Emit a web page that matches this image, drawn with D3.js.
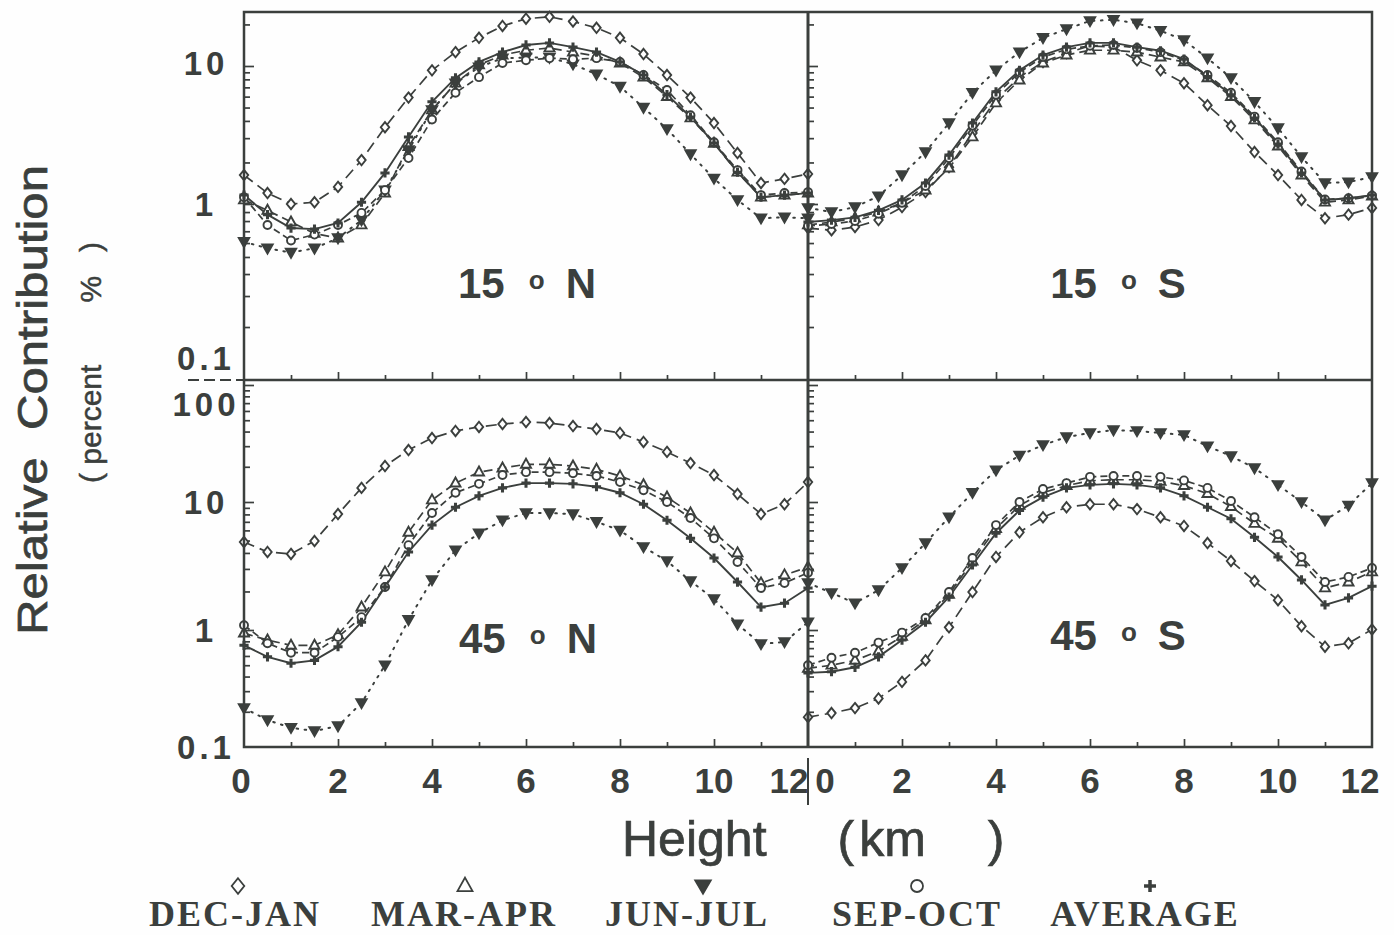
<!DOCTYPE html>
<html>
<head>
<meta charset="utf-8">
<script src="https://cdn.jsdelivr.net/npm/d3@7/dist/d3.min.js"></script>
<style>
  html, body { margin: 0; padding: 0; background: #fefefe; }
  svg { display: block; }
</style>
</head>
<body>
<svg id="chart" width="1394" height="935"></svg>
<script>
// Heights (km) at which each profile is sampled
const heights = [0, 0.5, 1, 1.5, 2, 2.5, 3, 3.5, 4, 4.5, 5, 5.5, 6, 6.5, 7, 7.5, 8, 8.5, 9, 9.5, 10, 10.5, 11, 11.5, 12];

const seasons = ["DEC-JAN", "MAR-APR", "JUN-JUL", "SEP-OCT", "AVERAGE"];

// Relative contribution (percent), 15 N
const decJan15N = [1.62, 1.2, 1.0, 1.03, 1.33, 2.08, 3.6, 5.9, 9.3, 12.6, 16, 19.5, 22, 22.7, 21, 18.9, 16, 12.2, 8.6, 5.9, 3.86, 2.34, 1.42, 1.52, 1.65];
const marApr15N = [1.07, 0.92, 0.79, 0.68, 0.64, 0.76, 1.2, 2.6, 4.8, 7.5, 10.2, 12, 13, 13.5, 12.6, 11.8, 10.5, 8.3, 6.0, 4.2, 2.75, 1.7, 1.12, 1.16, 1.2];
const junJul15N = [0.61, 0.56, 0.53, 0.56, 0.64, 0.81, 1.26, 2.46, 4.8, 7.5, 9.8, 11.4, 11.5, 11.5, 10.3, 8.7, 7.1, 5.0, 3.5, 2.3, 1.53, 1.07, 0.83, 0.84, 0.83];
const sepOct15N = [1.12, 0.76, 0.62, 0.67, 0.76, 0.89, 1.26, 2.15, 4.1, 6.4, 8.3, 10.5, 11, 11.4, 11.2, 11.4, 10.7, 8.6, 6.7, 4.4, 2.8, 1.76, 1.16, 1.2, 1.22];
const avg15N    = [1.16, 0.87, 0.73, 0.72, 0.78, 1.03, 1.68, 3.06, 5.5, 8.2, 10.7, 12.6, 14.2, 14.7, 13.7, 12.6, 10.7, 8.6, 6.2, 4.27, 2.77, 1.7, 1.12, 1.16, 1.2];

// Relative contribution (percent), 15 S
const decJan15S = [0.73, 0.71, 0.74, 0.81, 0.96, 1.22, 1.85, 3.27, 5.7, 8.3, 10.7, 12.4, 14, 13.7, 11, 9.3, 7.5, 5.2, 3.67, 2.38, 1.62, 1.07, 0.83, 0.87, 0.95];
const marApr15S = [0.76, 0.79, 0.83, 0.9, 1.02, 1.26, 1.82, 3.06, 5.4, 7.9, 10.5, 12, 13, 13, 12.6, 11.6, 10.7, 8.2, 6.0, 4.06, 2.63, 1.62, 1.03, 1.07, 1.14];
const junJul15S = [0.95, 0.9, 0.96, 1.14, 1.62, 2.38, 3.86, 6.4, 9.3, 12.6, 16, 18.5, 21.2, 21.6, 20.4, 18, 15.4, 11.4, 8.2, 5.5, 3.55, 2.19, 1.42, 1.44, 1.57];
const sepOct15S = [0.75, 0.77, 0.8, 0.88, 1.02, 1.35, 2.15, 3.7, 6.2, 9.0, 11.6, 13.2, 14, 14.2, 13.5, 12.6, 11, 8.6, 6.4, 4.3, 2.8, 1.72, 1.08, 1.1, 1.15];
const avg15S    = [0.79, 0.81, 0.84, 0.92, 1.07, 1.42, 2.26, 3.86, 6.5, 9.3, 12, 13.7, 14.7, 14.7, 13.7, 12.9, 11.2, 8.4, 6.2, 4.2, 2.72, 1.68, 1.07, 1.1, 1.16];

// Relative contribution (percent), 45 N
const decJan45N = [4.87, 4.07, 3.93, 4.96, 8.05, 13.2, 20.3, 27.8, 35.2, 40.5, 43.8, 46.4, 48.3, 47.3, 44.6, 42, 38.9, 32.6, 26.8, 21.5, 17, 11.7, 8.05, 9.6, 14.8];
const marApr45N = [0.94, 0.82, 0.74, 0.74, 0.91, 1.51, 2.84, 5.8, 10.4, 14.5, 18, 19.5, 21, 21, 20.3, 19, 16.7, 14, 11, 8.2, 5.8, 4.0, 2.33, 2.69, 3.1];
const junJul45N = [0.215, 0.17, 0.146, 0.137, 0.151, 0.238, 0.5, 1.2, 2.46, 4.2, 5.7, 7.2, 8.2, 8.2, 8.05, 7.0, 6.0, 4.45, 3.46, 2.41, 1.75, 1.11, 0.76, 0.79, 1.15];
const sepOct45N = [1.09, 0.77, 0.64, 0.64, 0.87, 1.26, 2.17, 4.6, 8.2, 12, 14.3, 17, 18, 18, 17.6, 16.7, 14.8, 12.6, 10, 7.5, 5.2, 3.4, 2.13, 2.33, 2.8];
const avg45N    = [0.74, 0.59, 0.52, 0.55, 0.72, 1.15, 2.17, 4.07, 6.6, 9.1, 11.3, 13.2, 14.5, 14.5, 14.3, 13.5, 12, 9.6, 7.2, 5.2, 3.65, 2.37, 1.51, 1.62, 2.13];

// Relative contribution (percent), 45 S
const decJan45S = [0.18, 0.195, 0.215, 0.26, 0.36, 0.55, 1.05, 1.98, 3.72, 5.8, 7.6, 9.1, 9.6, 9.6, 8.8, 7.6, 6.5, 4.78, 3.46, 2.41, 1.71, 1.07, 0.72, 0.77, 1.01];
const marApr45S = [0.47, 0.5, 0.55, 0.66, 0.88, 1.2, 1.9, 3.45, 6.2, 9.4, 12, 13.8, 15.2, 15.5, 15.5, 15, 13.8, 11.8, 9.2, 6.8, 5.2, 3.4, 2.13, 2.37, 2.84];
const junJul45S = [2.33, 1.95, 1.62, 2.05, 3.05, 4.78, 7.6, 12, 18.7, 25, 30.7, 35.9, 38.9, 41.2, 40.5, 38.9, 37.4, 30, 24.7, 19.5, 14, 10, 7.2, 9.4, 14.5];
const sepOct45S = [0.5, 0.58, 0.64, 0.78, 0.95, 1.24, 1.98, 3.65, 6.6, 10, 12.9, 14.5, 16.4, 16.7, 16.7, 16.4, 15.3, 13.2, 10.2, 7.6, 5.6, 3.72, 2.37, 2.6, 3.05];
const avg45S    = [0.43, 0.44, 0.48, 0.59, 0.82, 1.15, 1.81, 3.22, 5.7, 8.6, 11, 13.2, 14, 14.3, 14, 13.2, 11.3, 9.1, 7.4, 5.3, 3.72, 2.46, 1.57, 1.78, 2.2];

// Axis tick labels
const xTickLabels = [0, 2, 4, 6, 8, 10, 12];
const yTickLabelsTop = [0.1, 1, 10];
const yTickLabelsBottom = [0.1, 1, 10, 100];

// ---------------------------------------------------------------------------
const ink = "#3b3f3d";
const paper = "#fefefe";
const svg = d3.select("#chart");
svg.append("rect").attr("width", 1394).attr("height", 935).attr("fill", paper);

const X0 = 244, XM = 808, X1 = 1372;
const Y0 = 12, YM = 380, Y1 = 747;

const xLeft = d3.scaleLinear().domain([0, 12]).range([X0, XM]);
const xRight = d3.scaleLinear().domain([0, 12]).range([XM, X1]);

// Log axes as printed: decade spacing differs slightly per decade
const yTop = d3.scaleLog().domain([0.1, 1, 10, 24]).range([YM, 204, 66, 13.5]);
const yBottom = d3.scaleLog().domain([0.1, 1, 10, 100]).range([Y1, 630, 502, 385]);

const panels = [
  { lat: "15", hemi: "N", x: xLeft,  y: yTop,    series: [decJan15N, marApr15N, junJul15N, sepOct15N, avg15N], lx: 527,  ly: 298 },
  { lat: "15", hemi: "S", x: xRight, y: yTop,    series: [decJan15S, marApr15S, junJul15S, sepOct15S, avg15S], lx: 1118, ly: 298 },
  { lat: "45", hemi: "N", x: xLeft,  y: yBottom, series: [decJan45N, marApr45N, junJul45N, sepOct45N, avg45N], lx: 528,  ly: 653 },
  { lat: "45", hemi: "S", x: xRight, y: yBottom, series: [decJan45S, marApr45S, junJul45S, sepOct45S, avg45S], lx: 1118, ly: 650 }
];

// Marker shapes and line dashes per season
const markerPaths = [
  "M0,-5.2L4.2,0L0,5.2L-4.2,0Z",        // diamond
  "M0,-5.6L5,3.4L-5,3.4Z",              // triangle up
  "M-5.2,-3.8L5.2,-3.8L0,5.2Z",         // triangle down
  null,                                  // circle
  "M-4.6,0H4.6M0,-4.6V4.6"               // plus
];
const dashes = ["11,6", "9,5", "1.6,6.5", "7,4", null];
const fills = [paper, paper, ink, paper, "none"];

function drawMarker(g, i, k, sw) {
  if (i === 3) {
    return g.append("circle").attr("r", 4 * k).attr("fill", fills[i]).attr("stroke", ink).attr("stroke-width", sw);
  }
  return g.append("path")
    .attr("d", markerPaths[i])
    .attr("transform", k !== 1 ? `scale(${k})` : null)
    .attr("fill", fills[i])
    .attr("stroke", ink)
    .attr("stroke-width", (i === 4 ? 1.6 * sw : sw) / k);
}

// ---- ticks -----------------------------------------------------------------
const axisG = svg.append("g");

function minorValues(lo, hi) {
  const out = [];
  for (let d = lo; d < hi; d *= 10) {
    for (let m = 2; m <= 9; m++) out.push(+(d * m).toPrecision(3));
  }
  return out;
}

[[X0, yTop, [1, 10], minorValues(0.1, 10).concat([20])],
 [XM, yTop, [1, 10], minorValues(0.1, 10).concat([20])],
 [X0, yBottom, [1, 10, 100], minorValues(0.1, 100)],
 [XM, yBottom, [1, 10, 100], minorValues(0.1, 100)]].forEach(([xp, ys, majors, minors]) => {
  const gMaj = axisG.append("g").attr("transform", `translate(${xp},0)`)
    .call(d3.axisRight(ys).tickValues(majors).tickSize(10).tickFormat(""));
  const gMin = axisG.append("g").attr("transform", `translate(${xp},0)`)
    .call(d3.axisRight(ys).tickValues(minors).tickSize(6).tickFormat(""));
  [gMaj, gMin].forEach(g => {
    g.select(".domain").remove();
    g.selectAll("line").attr("stroke", ink).attr("stroke-width", 1.7);
  });
});

const kmTicks = [1, 2, 3, 4, 5, 6, 7, 8, 9, 10, 11];
[[xLeft, YM], [xRight, YM], [xLeft, Y1], [xRight, Y1]].forEach(([xs, yp]) => {
  [[kmTicks.filter(v => v % 2 === 0), 8], [kmTicks.filter(v => v % 2 === 1), 5]].forEach(([vals, len]) => {
    const g = axisG.append("g").attr("transform", `translate(0,${yp})`)
      .call(d3.axisTop(xs).tickValues(vals).tickSize(len).tickFormat(""));
    g.select(".domain").remove();
    g.selectAll("line").attr("stroke", ink).attr("stroke-width", 1.7);
  });
});

// ---- curves ----------------------------------------------------------------
panels.forEach(p => {
  const g = svg.append("g");
  const line = d3.line().x((d, i) => p.x(heights[i])).y(d => p.y(d));
  p.series.forEach((vals, si) => {
    g.append("path")
      .attr("d", line(vals))
      .attr("fill", "none")
      .attr("stroke", ink)
      .attr("stroke-width", si === 4 ? 1.9 : (si === 2 ? 2 : 1.7))
      .attr("stroke-linecap", si === 2 ? "round" : "butt")
      .attr("stroke-dasharray", dashes[si]);
  });
  p.series.forEach((vals, si) => {
    vals.forEach((v, i) => {
      const m = g.append("g").attr("transform", `translate(${p.x(heights[i])},${p.y(v)})`);
      drawMarker(m, si, 1, 1.9);
    });
  });

  // latitude label
  const t = svg.append("text")
    .attr("x", p.lx).attr("y", p.ly)
    .attr("text-anchor", "middle")
    .attr("font-family", "Liberation Sans, Arial, sans-serif")
    .attr("font-weight", "bold")
    .attr("font-size", 42)
    .attr("fill", ink);
  t.append("tspan").text(p.lat);
  t.append("tspan").attr("dx", 24).attr("dy", -9).attr("font-size", 26).text("o");
  t.append("tspan").attr("dx", 21).attr("dy", 9).text(p.hemi);
});

// ---- frame -----------------------------------------------------------------
const frame = svg.append("g").attr("stroke", ink).attr("fill", "none");
frame.append("rect").attr("x", X0).attr("y", Y0).attr("width", X1 - X0).attr("height", Y1 - Y0).attr("stroke-width", 2.5);
frame.append("line").attr("x1", XM).attr("x2", XM).attr("y1", Y0).attr("y2", Y1).attr("stroke-width", 3);
frame.append("line").attr("x1", X0).attr("x2", X1).attr("y1", YM).attr("y2", YM).attr("stroke-width", 2.5);
frame.append("line").attr("x1", 188).attr("x2", X0).attr("y1", YM).attr("y2", YM)
  .attr("stroke-width", 2).attr("stroke-dasharray", "11,5");
frame.append("line").attr("x1", XM).attr("x2", XM).attr("y1", 758).attr("y2", 805).attr("stroke-width", 2);

// ---- tick labels -------------------------------------------------------------
const labelFont = "Liberation Sans, Arial, Helvetica, sans-serif";
const tl = svg.append("g")
  .attr("font-family", labelFont).attr("font-weight", "bold").attr("fill", ink);

[[xLeft, -1], [xRight, 1]].forEach(([xs, side]) => {
  xTickLabels.forEach(v => {
    let nudge = 0;
    if (side < 0 && v === 0) nudge = -3;
    if (side < 0 && v === 12) nudge = -19;
    if (side > 0 && v === 0) nudge = 17;
    if (side > 0 && v === 12) nudge = -12;
    tl.append("text")
      .attr("x", xs(v) + nudge).attr("y", 793)
      .attr("text-anchor", "middle")
      .attr("font-size", 35)
      .text(v);
  });
});

yTickLabelsTop.forEach(v => {
  const yy = yTop(v) + (v === 0.1 ? -22 : (v === 10 ? -3 : 0));
  tl.append("text").attr("x", 206).attr("y", yy).attr("dy", "0.36em")
    .attr("text-anchor", "middle").attr("font-size", 33).attr("letter-spacing", 4)
    .text(v);
});
yTickLabelsBottom.forEach(v => {
  const yy = yBottom(v) + (v === 100 ? 19 : 0);
  tl.append("text").attr("x", 206).attr("y", yy).attr("dy", "0.36em")
    .attr("text-anchor", "middle").attr("font-size", 33).attr("letter-spacing", 4)
    .text(v);
});

// ---- axis titles -------------------------------------------------------------
const xt = svg.append("text")
  .attr("x", 622).attr("y", 856)
  .attr("font-family", labelFont).attr("font-size", 50)
  .attr("fill", ink).attr("stroke", ink).attr("stroke-width", 0.7);
xt.append("tspan").text("Height");
xt.append("tspan").attr("dx", 71).text("(");
xt.append("tspan").attr("dx", 5).text("km");
xt.append("tspan").attr("dx", 62).text(")");

svg.append("text")
  .attr("transform", "translate(47,635) rotate(-90)")
  .attr("font-family", labelFont).attr("font-size", 43)
  .attr("textLength", 470).attr("lengthAdjust", "spacingAndGlyphs")
  .attr("fill", ink).attr("stroke", ink).attr("stroke-width", 0.7)
  .style("white-space", "pre")
  .text("Relative  Contribution");

const yt2 = svg.append("text")
  .attr("transform", "translate(101,483) rotate(-90)")
  .attr("font-family", labelFont).attr("font-size", 30)
  .attr("fill", ink).attr("stroke", ink).attr("stroke-width", 0.5);
yt2.append("tspan").text("( percent");
yt2.append("tspan").attr("dx", 62).text("%");
yt2.append("tspan").attr("dx", 24).text(")");

// ---- legend ----------------------------------------------------------------
const legendCenters = [235, 464, 687, 917, 1145];
const symbolCenters = [238, 465, 703, 917, 1150];
const lg = svg.append("g");
seasons.forEach((s, i) => {
  const m = lg.append("g").attr("transform", `translate(${symbolCenters[i]},886)`);
  drawMarker(m, i, i === 4 ? 1.3 : 1.5, i === 4 ? 2.2 : 1.8);
  lg.append("text")
    .attr("x", legendCenters[i]).attr("y", 926)
    .attr("text-anchor", "middle")
    .attr("font-family", "Liberation Serif, Times New Roman, serif")
    .attr("font-weight", "bold")
    .attr("font-size", 36)
    .attr("letter-spacing", 2)
    .attr("fill", ink)
    .text(s);
});
</script>
</body>
</html>
